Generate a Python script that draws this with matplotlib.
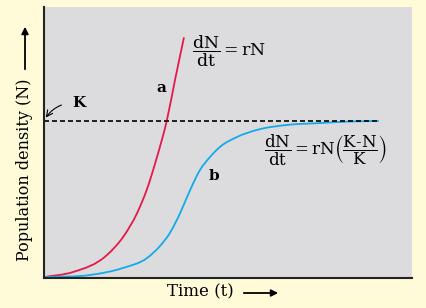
import matplotlib
matplotlib.use('Agg')
import matplotlib.pyplot as plt
from matplotlib.path import Path
from matplotlib.patches import PathPatch, FancyArrowPatch
import numpy as np

################################################################################
# Data (time in arbitrary units, K = 1000).              #
################################################################################

K = 1000

# Curve a: exponential growth.
t_a = [0.00, 0.79, 1.71, 2.15, 2.53, 2.80, 3.07, 3.34, 3.56, 3.80]
N_a = [6, 38, 146, 261, 413, 566, 769, 1004, 1259, 1526]

# Curve b: logistic growth.
t_b = [0.00, 1.25, 2.15, 2.80, 3.15, 3.42, 3.70, 3.97, 4.24, 4.51, 4.78, 5.24,
       5.78, 6.60, 7.50, 8.32, 9.08]
N_b = [6, 19, 64, 127, 203, 286, 413, 559, 687, 769, 833, 896,
       941, 973, 985, 995, 998]

t_K_end = 9.08

################################################################################
# Helper: smooth path through the points (cubic Hermite as Bezier in x).       #
################################################################################

def smooth_path(x, y):
  x = np.asarray(x, float)
  y = np.asarray(y, float)
  h = np.diff(x)
  d = np.diff(y) / h
  m = np.empty_like(y)
  m[0] = d[0]
  m[-1] = d[-1]
  m[1:-1] = (d[:-1]*h[1:] + d[1:]*h[:-1]) / (h[:-1] + h[1:])
  verts = [(x[0], y[0])]
  codes = [Path.MOVETO]
  for i in range(len(x) - 1):
    verts += [(x[i] + h[i]/3, y[i] + m[i]*h[i]/3),
              (x[i+1] - h[i]/3, y[i+1] - m[i+1]*h[i]/3),
              (x[i+1], y[i+1])]
    codes += [Path.CURVE4] * 3
  return Path(verts, codes)

################################################################################
# Plot.                                                                        #
################################################################################

plt.rcParams['mathtext.fontset'] = 'dejavuserif'
serif = 'DejaVu Serif'

fig = plt.figure(figsize=(4.26, 3.08), dpi=100, facecolor='#fffbd9')
ax  = fig.add_axes([44/426, 30/308, 368/426, 271/308])
ax.set_facecolor('#dcdcde')

# Curves.
ax.add_patch(PathPatch(smooth_path(t_a, N_a), fc='none', ec='#e8174a', lw=1.3, capstyle='round'))
ax.add_patch(PathPatch(smooth_path(t_b, N_b), fc='none', ec='#13aaea', lw=1.3, capstyle='round'))
ax.plot([0, t_K_end], [K, K], color='black', lw=1.2, ls=(0, (3, 1.8)))

# Axes details.
ax.set_xlim(0, 10)
ax.set_ylim(0, 1723)
ax.set_xticks([])
ax.set_yticks([])
for s in ['top', 'right']:
  ax.spines[s].set_visible(False)
for s in ['left', 'bottom']:
  ax.spines[s].set_color('#222222')
  ax.spines[s].set_linewidth(1.5)

# Curve labels.
ax.text(3.2, 1210, 'a', fontsize=11, fontweight='bold', family=serif, ha='center', va='center')
ax.text(4.62, 650, 'b', fontsize=11, fontweight='bold', family=serif, ha='center', va='center')

# K label with curved arrow.
ax.annotate('K', xy=(0.05, K + 20), xytext=(0.95, 1110), fontsize=11, fontweight='bold',
            family=serif, ha='center', va='center',
            arrowprops=dict(arrowstyle='->', color='black', lw=0.8,
                            connectionstyle='arc3,rad=0.3', shrinkA=6, shrinkB=0))

# Equations.
ax.text(4.02, 1440, r'$\dfrac{\mathrm{dN}}{\mathrm{dt}} = \mathrm{rN}$', fontsize=12.5,
        ha='left', va='center')
ax.text(5.98, 810, r'$\dfrac{\mathrm{dN}}{\mathrm{dt}} = \mathrm{rN}\left(\dfrac{\mathrm{K}\text{-}\mathrm{N}}{\mathrm{K}}\right)$',
        fontsize=12, ha='left', va='center')

# Axis labels with arrows.
fig.text(25/426, 1 - 170/308, 'Population density (N)', rotation=90, fontsize=11.5,
         family=serif, ha='center', va='center')
fig.add_artist(FancyArrowPatch((25/426, 1 - 72/308), (25/426, 1 - 24/308),
               transform=fig.transFigure, arrowstyle='-|>', mutation_scale=10, lw=1.3, color='black'))
fig.text(200/426, 1 - 292/308, 'Time (t)', fontsize=12, family=serif, ha='center', va='center')
fig.add_artist(FancyArrowPatch((241/426, 1 - 293/308), (281/426, 1 - 293/308),
               transform=fig.transFigure, arrowstyle='-|>', mutation_scale=10, lw=1.3, color='black'))

# Save figure.
fig.savefig('out.png', dpi=100, facecolor=fig.get_facecolor())
plt.close()
